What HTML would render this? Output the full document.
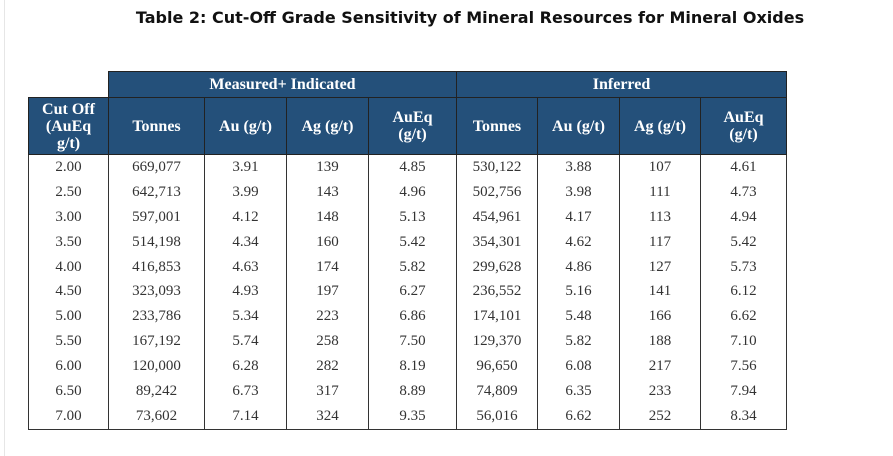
<!DOCTYPE html>
<html><head><style>
body{margin:0;width:893px;height:456px;background:#fff;position:relative;overflow:hidden}
.lb{position:absolute;left:4px;top:0;width:1px;height:456px;background:#e6e6e6}
h1{position:absolute;top:8px;left:0;width:940px;text-align:center;margin:0;font:bold 16px "DejaVu Sans",sans-serif;color:#111}
table{position:absolute;left:28px;top:71px;border-collapse:collapse;font-family:"Liberation Serif",serif;font-size:15px}
td,th{padding:0;text-align:center}
th{background:#24507a;color:#fff;font-weight:bold;border:1.5px solid #222;line-height:17px;font-size:16px}
td{color:#333;height:24.9px;border-left:1.5px solid #333;border-right:1.5px solid #333}
tr.last td{border-bottom:1.5px solid #333}
.blank{background:#fff;border:none;border-bottom:1.5px solid #222}
</style></head><body>
<div class="lb"></div>
<h1>Table 2: Cut-Off Grade Sensitivity of Mineral Resources for Mineral Oxides</h1>
<table>
<colgroup><col style="width:80px"><col style="width:96px"><col style="width:82px"><col style="width:82px"><col style="width:88px"><col style="width:81px"><col style="width:82px"><col style="width:81px"><col style="width:86px"></colgroup>
<tr style="height:26px"><th class="blank"></th><th colspan="4">Measured+ Indicated</th><th colspan="4">Inferred</th></tr>
<tr style="height:57px"><th>Cut Off<br>(AuEq<br>g/t)</th><th>Tonnes</th><th>Au (g/t)</th><th>Ag (g/t)</th><th>AuEq<br>(g/t)</th><th>Tonnes</th><th>Au (g/t)</th><th>Ag (g/t)</th><th>AuEq<br>(g/t)</th></tr>
<tr><td>2.00</td><td>669,077</td><td>3.91</td><td>139</td><td>4.85</td><td>530,122</td><td>3.88</td><td>107</td><td>4.61</td></tr>
<tr><td>2.50</td><td>642,713</td><td>3.99</td><td>143</td><td>4.96</td><td>502,756</td><td>3.98</td><td>111</td><td>4.73</td></tr>
<tr><td>3.00</td><td>597,001</td><td>4.12</td><td>148</td><td>5.13</td><td>454,961</td><td>4.17</td><td>113</td><td>4.94</td></tr>
<tr><td>3.50</td><td>514,198</td><td>4.34</td><td>160</td><td>5.42</td><td>354,301</td><td>4.62</td><td>117</td><td>5.42</td></tr>
<tr><td>4.00</td><td>416,853</td><td>4.63</td><td>174</td><td>5.82</td><td>299,628</td><td>4.86</td><td>127</td><td>5.73</td></tr>
<tr><td>4.50</td><td>323,093</td><td>4.93</td><td>197</td><td>6.27</td><td>236,552</td><td>5.16</td><td>141</td><td>6.12</td></tr>
<tr><td>5.00</td><td>233,786</td><td>5.34</td><td>223</td><td>6.86</td><td>174,101</td><td>5.48</td><td>166</td><td>6.62</td></tr>
<tr><td>5.50</td><td>167,192</td><td>5.74</td><td>258</td><td>7.50</td><td>129,370</td><td>5.82</td><td>188</td><td>7.10</td></tr>
<tr><td>6.00</td><td>120,000</td><td>6.28</td><td>282</td><td>8.19</td><td>96,650</td><td>6.08</td><td>217</td><td>7.56</td></tr>
<tr><td>6.50</td><td>89,242</td><td>6.73</td><td>317</td><td>8.89</td><td>74,809</td><td>6.35</td><td>233</td><td>7.94</td></tr>
<tr class="last"><td>7.00</td><td>73,602</td><td>7.14</td><td>324</td><td>9.35</td><td>56,016</td><td>6.62</td><td>252</td><td>8.34</td></tr>
</table>
</body></html>
